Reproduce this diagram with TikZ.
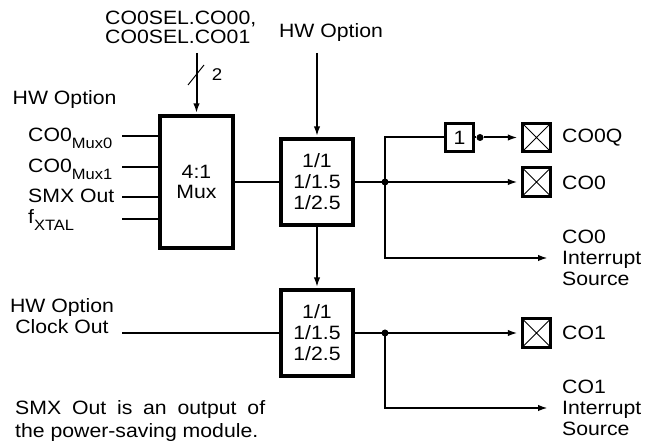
\documentclass[tikz,border=0pt]{standalone}
\usepackage{fontspec}
\setmainfont[FakeStretch=1.1]{Liberation Sans}
\usetikzlibrary{arrows.meta}
\newcommand{\lowtext}[1]{\raisebox{-0.6ex}{\fontsize{15}{15}\selectfont #1}}
\tikzset{
  blk/.style={draw, line width=3.4pt, inner sep=0pt, align=center},
  pad/.style={draw, line width=3pt, minimum size=28.5pt, inner sep=0pt,
    path picture={\draw[line width=0.9pt]
      (path picture bounding box.south west) -- (path picture bounding box.north east)
      (path picture bounding box.north west) -- (path picture bounding box.south east);}},
  wire/.style={line width=2pt},
  sig/.style={wire, -{Latex[length=10pt,width=6.5pt]}, shorten >=3pt},
  jdot/.style={circle, fill, inner sep=0pt, minimum size=7pt},
  lbl/.style={inner sep=0pt}
}
\begin{document}
\begin{tikzpicture}[x=1pt,y=-1pt,line join=miter,font=\fontsize{19.3}{21}\selectfont]
  \useasboundingbox (0,0) rectangle (657,446);
  % blocks
  \node[blk, minimum width=73pt, minimum height=132pt] (mux) at (196.5,182) {4:1\\[-1pt]Mux};
  \node[blk, minimum width=72pt, minimum height=86pt] (divA) at (317,182) {1/1\\1/1.5\\1/2.5};
  \node[blk, minimum width=72pt, minimum height=86pt] (divB) at (317,333) {1/1\\1/1.5\\1/2.5};
  \node[blk, minimum size=27.5pt] (inv) at (459.5,137.5) {1};
  \node[pad] (padQ) at (536.5,137.5) {};
  \node[pad] (pad0) at (536.5,182) {};
  \node[pad] (pad1) at (536.5,333) {};
  % mux inputs
  \node[lbl, anchor=base west] (hwmux) at (12.5,105) {HW Option};
  \node[lbl, anchor=base west] (lmux0) at (28,142) {CO0\lowtext{Mux0}};
  \node[lbl, anchor=base west] (lmux1) at (28,173) {CO0\lowtext{Mux1}};
  \node[lbl, anchor=base west] (lsmx) at (28,203) {SMX Out};
  \node[lbl, anchor=base west] (lxtal) at (28,224) {f\lowtext{XTAL}};
  \foreach \n/\y in {0/136,1/167,2/197,3/219}{
    \coordinate (in\n) at (122,\y);
    \draw[wire] (in\n) -- (in\n -| mux.west);
  }
  % select
  \node[lbl, align=left, anchor=west] (sel) at (105,27) {CO0SEL.CO00,\\[-2pt]CO0SEL.CO01};
  \coordinate (selin) at (196.5,53);
  \draw[sig, shorten >=1pt] (selin) -- (mux.north);
  \draw[line width=1pt] (188,85) -- (204,65);
  \node[lbl] (width) at (217,75) {\fontsize{17}{17}\selectfont 2};
  % divider A
  \node[lbl, anchor=base] (hwdiv) at (331,38) {HW Option};
  \coordinate (hwin) at (317,53);
  \draw[sig, shorten >=1pt] (hwin) -- (divA.north);
  \draw[wire] (mux.east) -- (divA.west);
  \draw[sig, shorten >=1pt] (divA.south) -- (divB.north);
  \coordinate (j0) at (385,182);
  \draw[wire] (divA.east) -- (j0);
  \node[jdot] at (j0) {};
  \draw[sig] (j0) -- (pad0.west);
  \draw[wire] (j0) |- (inv.west);
  \node[jdot] (qdot) at (480,137.5) {};
  \draw[wire] (inv.east) -- (qdot);
  \draw[sig] (qdot) -- (padQ.west);
  \coordinate (irq0) at (548,258);
  \draw[sig, shorten >=0pt] (j0) |- (irq0);
  \node[lbl, anchor=west] (tq) at (562,137.5) {CO0Q};
  \node[lbl, anchor=west] (t0) at (562,182.5) {CO0};
  \node[lbl, anchor=west, align=left] (ti0) at (562,258) {CO0\\Interrupt\\Source};
  % divider B
  \node[lbl, align=center] (hwclk) at (62,316) {HW Option\\Clock Out};
  \coordinate (clkin) at (122,333);
  \draw[wire] (clkin) -- (divB.west);
  \coordinate (j1) at (385,333);
  \draw[wire] (divB.east) -- (j1);
  \node[jdot] at (j1) {};
  \draw[sig] (j1) -- (pad1.west);
  \coordinate (irq1) at (548,408);
  \draw[sig, shorten >=0pt] (j1) |- (irq1);
  \node[lbl, anchor=west] (t1) at (562,333) {CO1};
  \node[lbl, anchor=west, align=left] (ti1) at (562,408) {CO1\\Interrupt\\Source};
  % note
  \node[lbl, anchor=base west] (note1) at (15,415) {\makebox[250pt][s]{SMX Out is an output of}};
  \node[lbl, anchor=base west] (note2) at (15,438) {the power-saving module.};
\end{tikzpicture}
\end{document}
